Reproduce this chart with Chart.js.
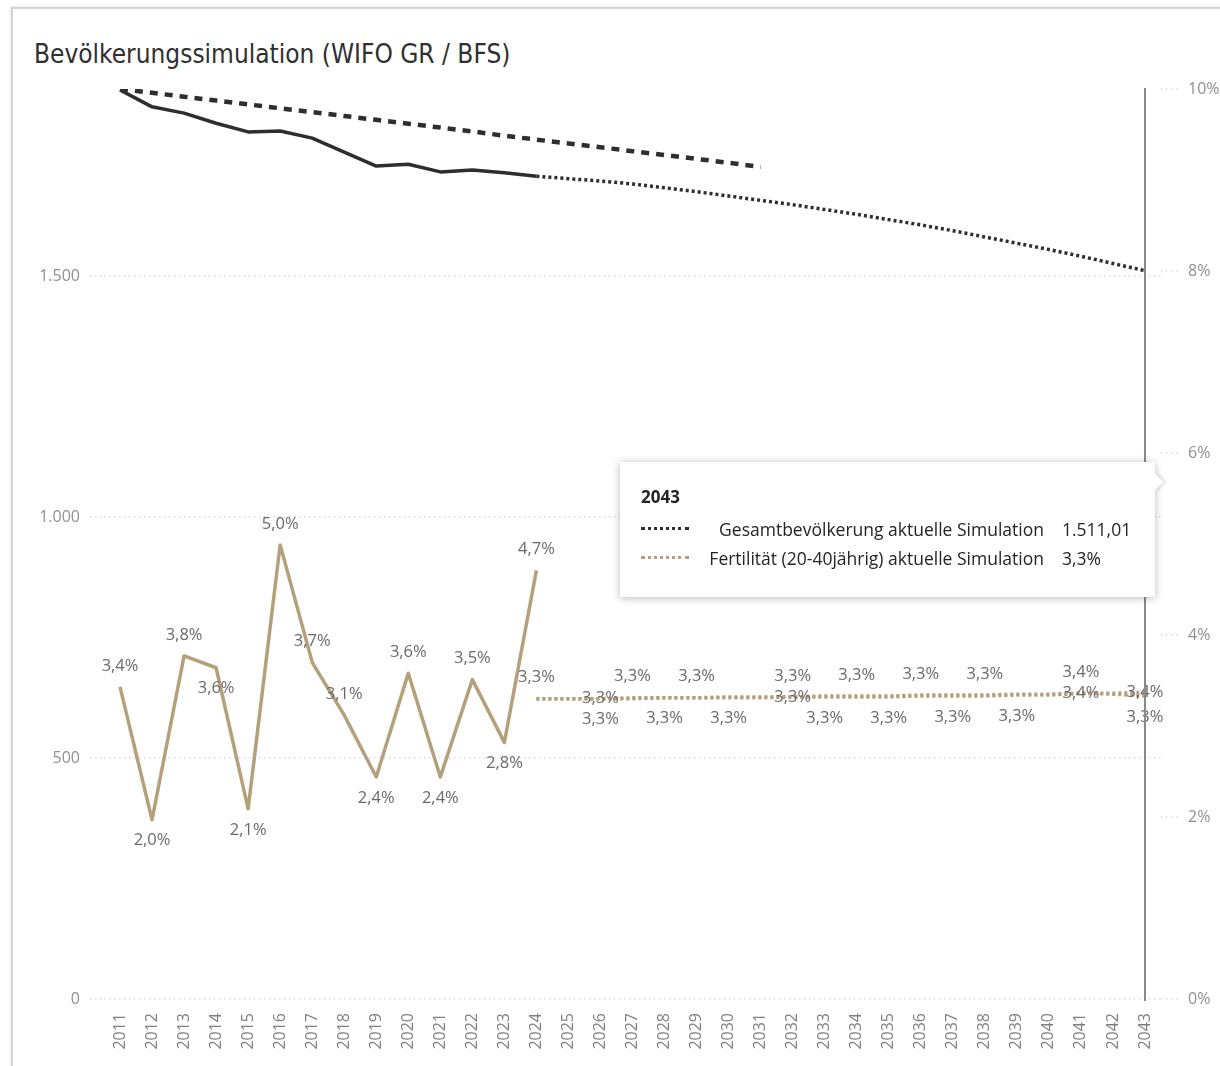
<!DOCTYPE html>
<html lang="de">
<head>
<meta charset="utf-8">
<title>Bevölkerungssimulation</title>
<script src="https://cdn.jsdelivr.net/npm/chart.js@4.4.1/dist/chart.umd.min.js"></script>
<style>
  html, body { margin: 0; padding: 0; background: #fff; }
  body { width: 1220px; height: 1066px; position: relative; overflow: hidden; font-family: 'Open Sans', sans-serif; }
  .frame { position: absolute; left: 11px; top: 7px; width: 1400px; height: 1400px; border: 2px solid #d4d4d4; box-shadow: 0 0 3px rgba(0, 0, 0, 0.15); }
  .title { position: absolute; left: 34px; top: 39px; font: 26px 'DejaVu Sans Condensed', sans-serif; color: #303030; white-space: nowrap; }
  .chart-box { position: absolute; left: 0; top: 0; width: 1220px; height: 1066px; }
  .tip { position: absolute; left: 620px; top: 462px; width: 535px; height: 135px; background: #fff; box-shadow: 0 1px 8px rgba(0, 0, 0, 0.28); box-sizing: border-box; padding: 23px 20px 0 21px; color: #252423; }
  .tip::after { content: ''; position: absolute; right: -6px; top: 14px; width: 12px; height: 12px; background: #fff; transform: rotate(45deg); box-shadow: 2px -2px 3px rgba(0, 0, 0, 0.12); }
  .tip__head { font-weight: 700; font-size: 17px; margin-bottom: 6px; }
  .tip__row { display: flex; align-items: center; height: 29px; font-size: 17.5px; }
  .tip__swatch { width: 48px; border-top: 3px dotted #252423; }
  .tip__label { width: 355px; text-align: right; white-space: nowrap; }
  .tip__value { margin-left: 18px; }
</style>
</head>
<body>
<div class="frame"></div>
<div class="title">Bevölkerungssimulation (WIFO GR / BFS)</div>
<div class="chart-box"><canvas id="popChart"></canvas></div>
<div class="tip" id="tip"></div>
<script>
const years = ['2011', '2012', '2013', '2014', '2015', '2016', '2017', '2018', '2019', '2020', '2021',
  '2022', '2023', '2024', '2025', '2026', '2027', '2028', '2029', '2030', '2031', '2032', '2033',
  '2034', '2035', '2036', '2037', '2038', '2039', '2040', '2041', '2042', '2043'];

// Gesamtbevölkerung (linke Achse)
const popActual = [1886, 1851, 1838, 1817, 1799, 1801, 1786, 1757, 1728, 1732, 1716, 1720, 1714, 1707]; // 2011-2024
const popForecast = [1707, 1702, 1697, 1691, 1683, 1675, 1666, 1657, 1648, 1638, 1628, 1617, 1606,
  1594, 1581, 1568, 1555, 1541, 1526, 1511.01]; // 2024-2043
const popPrevious = [1888, 1880, 1872, 1864, 1856, 1848, 1840, 1832, 1824, 1816, 1808, 1800, 1791,
  1783, 1775, 1767, 1759, 1751, 1743, 1735, 1726]; // 2011-2031

// Fertilität in % (rechte Achse)
const fertActual = [3.43, 1.97, 3.77, 3.64, 2.09, 4.99, 3.70, 3.12, 2.44, 3.58, 2.44, 3.51, 2.82, 4.71]; // 2011-2024
const fertForecast = [3.30, 3.30, 3.30, 3.30, 3.31, 3.31, 3.31, 3.31, 3.32, 3.32, 3.32, 3.32, 3.33,
  3.33, 3.33, 3.34, 3.34, 3.36, 3.35, 3.33]; // 2024-2043
const fertPrevious = [3.30, 3.30, 3.30, 3.31, 3.31, 3.31, 3.32, 3.32, 3.32, 3.33, 3.33, 3.33, 3.34,
  3.34, 3.34, 3.35, 3.35, 3.36, 3.36, 3.37]; // 2024-2043

const yLeftTicks = [0, 500, 1000, 1500];
const yRightTicks = [0, 2, 4, 6, 8, 10];
const hoverYear = '2043';

// label placement (a = above, b = below, c = on the line)
const fertActualPos = ['a', 'b', 'a', 'b', 'b', 'a', 'a', 'a', 'b', 'a', 'b', 'a', 'b', 'a'];
const fertForecastPos = ['', '', 'b', '', 'b', '', 'b', '', 'c', 'b', '', 'b', '', 'b', '', 'b', '', 'c', '', 'b'];
const fertPreviousPos = ['a', '', 'c', 'a', '', 'a', '', '', 'a', '', 'a', '', 'a', '', 'a', '', '', 'a', '', 'c'];

const TAN = '#b5a07c';
const DARK = '#2e2e2e';

function placeAt(startYear, values) {
  const start = years.indexOf(startYear);
  return years.map((y, i) => (i >= start && i < start + values.length ? values[i - start] : null));
}

function formatPct(v) {
  return `${v.toFixed(1).replace('.', ',')}%`;
}

function formatThousands(v, digits) {
  const [int, dec] = v.toFixed(digits).split('.');
  const withDots = int.replace(/\B(?=(\d{3})+(?!\d))/g, '.');
  return dec ? `${withDots},${dec}` : withDots;
}

const valueLabels = {
  id: 'valueLabels',
  afterDatasetsDraw(chart) {
    const { ctx } = chart;
    ctx.save();
    ctx.font = '16.5px "Open Sans", sans-serif';
    ctx.fillStyle = '#6a6a6a';
    ctx.textAlign = 'center';
    ctx.textBaseline = 'middle';
    chart.data.datasets.forEach((ds, i) => {
      if (!ds.labelPos) return;
      const meta = chart.getDatasetMeta(i);
      meta.data.forEach((pt, j) => {
        const v = ds.data[j];
        const pos = ds.labelPos[j - ds.labelStart];
        if (v == null || !pos) return;
        let dy = 0;
        if (pos === 'a') dy = -21;
        if (pos === 'b') dy = 21;
        ctx.fillText(formatPct(v), pt.x, pt.y + dy);
      });
    });
    ctx.restore();
  },
};

const hoverLine = {
  id: 'hoverLine',
  afterDraw(chart) {
    const { ctx, chartArea } = chart;
    const x = chart.scales.x.getPixelForValue(years.indexOf(hoverYear));
    ctx.save();
    ctx.strokeStyle = '#8a8a8a';
    ctx.lineWidth = 2;
    ctx.beginPath();
    ctx.moveTo(x, chartArea.top - 1);
    ctx.lineTo(x, chartArea.bottom + 2);
    ctx.stroke();
    ctx.restore();
  },
};

const popCanvas = document.getElementById('popChart').getContext('2d');

const popChart = new Chart(popCanvas, {
  type: 'line',
  data: {
    labels: years,
    datasets: [
      {
        label: 'Gesamtbevölkerung',
        data: placeAt('2011', popActual),
        yAxisID: 'y',
        borderColor: DARK,
        borderWidth: 3.5,
      },
      {
        label: 'Gesamtbevölkerung aktuelle Simulation',
        data: placeAt('2024', popForecast),
        yAxisID: 'y',
        borderColor: DARK,
        borderWidth: 3.5,
        borderDash: [3, 3],
      },
      {
        label: 'Gesamtbevölkerung frühere Simulation',
        data: placeAt('2011', popPrevious),
        yAxisID: 'y',
        borderColor: DARK,
        borderWidth: 4.5,
        borderDash: [8, 7],
      },
      {
        label: 'Fertilität (20-40jährig)',
        data: placeAt('2011', fertActual),
        yAxisID: 'y1',
        borderColor: TAN,
        borderWidth: 3.5,
        labelPos: fertActualPos,
        labelStart: 0,
      },
      {
        label: 'Fertilität (20-40jährig) aktuelle Simulation',
        data: placeAt('2024', fertForecast),
        yAxisID: 'y1',
        borderColor: TAN,
        borderWidth: 3.5,
        borderDash: [3, 3],
        labelPos: fertForecastPos,
        labelStart: years.indexOf('2024'),
      },
      {
        label: 'Fertilität (20-40jährig) frühere Simulation',
        data: placeAt('2024', fertPrevious),
        yAxisID: 'y1',
        borderColor: TAN,
        borderWidth: 3.5,
        borderDash: [3, 3],
        labelPos: fertPreviousPos,
        labelStart: years.indexOf('2024'),
      },
    ],
  },
  options: {
    responsive: true,
    maintainAspectRatio: false,
    animation: false,
    events: [],
    elements: {
      point: { radius: 0 },
      line: { tension: 0, borderCapStyle: 'butt', borderJoinStyle: 'round' },
    },
    layout: { padding: { top: 89, left: 0, right: 0, bottom: 0 } },
    plugins: {
      legend: { display: false },
      tooltip: { enabled: false },
    },
    scales: {
      x: {
        offset: true,
        grid: { display: false },
        border: { display: false },
        ticks: {
          autoSkip: false,
          minRotation: 90,
          maxRotation: 90,
          padding: 6,
          color: '#808080',
          font: { family: 'Open Sans', size: 16 },
        },
        afterFit(scale) { scale.height = 67; },
      },
      y: {
        position: 'left',
        min: 0,
        max: 1888,
        afterBuildTicks(scale) { scale.ticks = yLeftTicks.map((v) => ({ value: v })); },
        ticks: {
          padding: 10,
          color: '#909090',
          font: { family: 'Open Sans', size: 16 },
          callback: (v) => formatThousands(v, 0),
        },
        grid: {
          color: '#d9d9d9',
          lineWidth: 1.5,
          tickLength: 14,
          tickColor: '#d9d9d9',
          tickBorderDash: [1.5, 3.5],
        },
        border: { display: false, dash: [1.5, 3.5] },
        afterFit(scale) { scale.width = 104; },
      },
      y1: {
        position: 'right',
        min: 0,
        max: 10,
        afterBuildTicks(scale) { scale.ticks = yRightTicks.map((v) => ({ value: v })); },
        ticks: {
          padding: 7,
          color: '#909090',
          font: { family: 'Open Sans', size: 16 },
          callback: (v) => `${v}%`,
        },
        grid: {
          drawOnChartArea: false,
          tickLength: 20,
          tickColor: '#d9d9d9',
          lineWidth: 1.5,
          tickBorderDash: [1.5, 3.5],
        },
        border: { display: false },
        afterFit(scale) { scale.width = 59; },
      },
    },
  },
  plugins: [valueLabels, hoverLine],
});

// statischer Tooltip für das gewählte Jahr
function buildTip() {
  const idx = years.indexOf(hoverYear);
  const popDs = popChart.data.datasets[1];
  const fertDs = popChart.data.datasets[4];
  const rows = [
    { ds: popDs, text: formatThousands(popDs.data[idx], 2) },
    { ds: fertDs, text: formatPct(fertDs.data[idx]) },
  ];
  const tip = document.getElementById('tip');
  tip.innerHTML = `<div class="tip__head">${hoverYear}</div>${rows.map((r) => `
    <div class="tip__row">
      <span class="tip__swatch" style="border-top-color:${r.ds.borderColor}"></span>
      <span class="tip__label">${r.ds.label}</span>
      <span class="tip__value">${r.text}</span>
    </div>`).join('')}`;
}

buildTip();
</script>
</body>
</html>
